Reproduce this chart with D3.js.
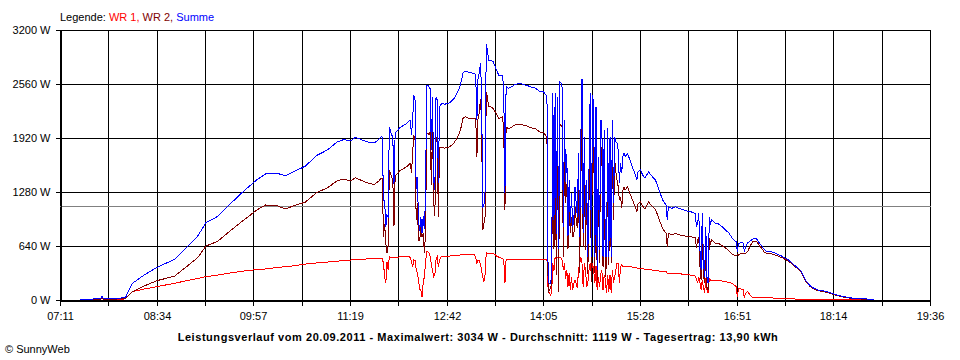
<!DOCTYPE html>
<html><head><meta charset="utf-8">
<script src="https://cdn.jsdelivr.net/npm/d3@7"></script>
<style>
body{margin:0;background:#fff;}
svg{display:block;font-family:"Liberation Sans",Arial,sans-serif;}
</style></head><body>
<svg id="chart" width="960" height="360"></svg>
<script>
const times=[
"07:28","07:40","07:46","07:47","07:48","08:00","08:07","08:10","08:13","08:23",
"08:34","08:49","09:00","09:09","09:16","09:26","09:37","09:49","10:00","10:07",
"10:17","10:24","10:31","10:41","10:51","11:00","11:08","11:14","11:20","11:24",
"11:31","11:36","11:40","11:44","11:46","11:47","11:48","11:49","11:50","11:51",
"11:52","11:53","11:54","11:55","11:56","11:57","11:58","12:00","12:02","12:05",
"12:08","12:10","12:11","12:12","12:13","12:14","12:15","12:16","12:17","12:18",
"12:19","12:20","12:21","12:22","12:23","12:24","12:25","12:26","12:27","12:28",
"12:29","12:30","12:31","12:32","12:33","12:34","12:35","12:36","12:38","12:40",
"12:43","12:45","12:48","12:50","12:53","12:55","12:56","12:58","13:01","13:04",
"13:06","13:07","13:08","13:09","13:10","13:11","13:12","13:13","13:14","13:15",
"13:16","13:17","13:18","13:20","13:22","13:25","13:27","13:30","13:31","13:32",
"13:33","13:35","13:38","13:40","13:42","13:45","13:48","13:50","13:53","13:55",
"13:58","14:00","14:02","14:05","14:07","14:08","14:09","14:10","14:11","14:12",
"14:13","14:14","14:15","14:16","14:17","14:18","14:19","14:20","14:21","14:22",
"14:23","14:24","14:25","14:26","14:27","14:28","14:29","14:30","14:31","14:32",
"14:33","14:34","14:35","14:36","14:37","14:38","14:39","14:40","14:41","14:42",
"14:43","14:44","14:45","14:46","14:47","14:48","14:49","14:50","14:51","14:52",
"14:53","14:54","14:55","14:56","14:57","14:58","14:59","15:00","15:01","15:02",
"15:03","15:04","15:05","15:06","15:07","15:08","15:09","15:10","15:11","15:12",
"15:13","15:14","15:15","15:17","15:19","15:21","15:22","15:24","15:25","15:26",
"15:28","15:30","15:32","15:35","15:38","15:41","15:44","15:47","15:50","15:51",
"15:52","15:55","15:58","16:01","16:04","16:07","16:09","16:11","16:13","16:15",
"16:16","16:17","16:18","16:19","16:20","16:21","16:22","16:23","16:24","16:25",
"16:26","16:27","16:28","16:29","16:30","16:32","16:35","16:38","16:41","16:44",
"16:47","16:50","16:51","16:52","16:54","16:56","16:57","16:58","17:00","17:02",
"17:04","17:06","17:08","17:10","17:12","17:14","17:16","17:20","17:25","17:30",
"17:35","17:40","17:45","17:48","17:50","17:53","17:56","18:00","18:05","18:10",
"18:15","18:20","18:25","18:30","18:35","18:40","18:45","18:48"];

const wr1=[
4,6,8,20,8,10,12,60,99,130,
158,198,230,255,277,295,320,345,360,368,
385,395,405,425,440,450,460,468,474,478,
485,487,490,492,492,490,434,276,197,450,
355,513,501,501,501,500,505,508,510,512,
513,512,505,450,395,474,470,360,316,240,
120,118,39,200,276,434,573,573,560,513,
420,355,276,300,480,513,395,480,521,521,
521,521,525,528,533,535,537,540,545,540,
533,500,434,474,474,420,355,276,217,300,
565,553,553,553,553,520,505,490,474,197,
478,478,478,478,480,482,482,482,482,482,
482,482,480,480,482,482,120,80,60,79,
434,350,513,480,505,505,505,500,474,355,
434,250,355,158,316,118,277,118,197,237,
200,138,355,430,513,434,158,434,355,158,
200,355,434,300,434,355,197,400,118,277,
150,300,355,118,300,237,79,300,100,300,
79,355,200,277,355,434,434,197,395,415,
400,400,395,395,395,390,385,380,380,378,
376,370,365,360,355,350,344,340,336,316,
316,316,316,314,306,302,300,296,290,284,
250,197,277,200,118,237,150,79,257,120,
79,257,237,237,237,237,230,225,215,210,
190,160,39,138,130,125,20,79,99,59,
32,32,32,30,30,28,27,25,20,16,
12,12,10,10,10,9,9,8,8,8,
7,6,5,5,4,4,4,4];

const wr2=[
4,6,8,25,8,12,14,58,98,166,
229,282,402,504,640,695,822,955,1070,1126,
1116,1079,1116,1160,1275,1328,1411,1434,1411,1450,
1405,1380,1370,1410,1445,1442,750,900,671,560,
632,1541,1500,1462,1420,880,1470,1501,1535,1555,
1580,1610,1620,1501,1750,1950,1900,950,1146,700,
700,869,750,790,560,790,1975,1975,1960,1990,
1360,2055,1150,1000,1930,1857,987,1810,1810,1800,
1805,1820,1855,1896,1975,2074,2150,2173,2153,2150,
2155,2150,1699,2173,2212,2385,2134,829,900,987,
2469,2410,2290,2290,2270,2200,2150,2170,2015,1067,
2050,2030,2050,2070,2080,2085,2070,2065,2050,2040,
2030,2010,1990,1990,1948,1936,90,120,140,200,
2015,600,1936,300,1900,100,2080,2070,2050,514,
1700,1150,1380,600,1106,790,987,750,750,1106,
950,850,1383,320,1400,2190,632,1500,593,1264,
313,1186,2015,213,1996,1976,316,1891,237,1422,
442,1833,1778,395,1715,276,434,1734,413,1636,
434,1778,946,1659,1522,1423,1344,1186,1225,1086,
1299,1338,1304,1343,1264,1190,1160,1090,1040,1140,
1165,1110,1080,1160,1110,1070,960,845,790,632,
790,771,790,773,765,757,750,751,745,743,
619,712,750,400,237,790,300,198,612,150,
118,731,672,711,700,672,671,644,615,580,
535,530,534,533,549,550,553,553,580,640,
687,699,687,640,610,570,550,548,527,497,
460,400,345,266,215,165,135,110,100,82,
58,40,27,16,13,9,6,4];

const summe=[
8,12,16,45,16,22,26,118,197,296,
387,480,632,759,917,990,1142,1300,1430,1494,
1501,1474,1521,1585,1715,1778,1871,1902,1885,1928,
1890,1867,1860,1902,1937,1932,1184,1176,868,1010,
987,2054,2001,1963,1921,1380,1975,2009,2045,2067,
2093,2122,2125,1951,2145,2424,2370,1310,1462,940,
820,987,789,990,836,1224,2548,2548,2520,2503,
1780,2410,1426,1300,2410,2370,1382,2290,2331,2321,
2326,2341,2380,2424,2508,2609,2687,2713,2698,2690,
2688,2650,2133,2647,2686,2805,2489,1105,1117,1287,
3034,2963,2843,2843,2823,2720,2655,2660,2489,1264,
2528,2508,2528,2548,2560,2567,2552,2547,2532,2522,
2512,2492,2470,2470,2430,2418,210,200,200,279,
2449,950,2449,780,2405,605,2585,2570,2524,869,
2134,1400,1735,758,1422,908,1264,868,947,1343,
1150,988,1738,750,1913,2624,790,1934,948,1422,
513,1541,2449,513,2430,2331,513,2291,355,1699,
592,2133,2133,513,2015,513,513,2034,513,1936,
513,2133,1146,1936,1877,1857,1778,1383,1620,1501,
1699,1738,1699,1738,1659,1580,1545,1470,1420,1518,
1541,1480,1445,1520,1465,1420,1304,1185,1126,948,
1106,1087,1106,1087,1071,1059,1050,1047,1035,1027,
869,909,1027,600,355,1027,450,277,869,270,
197,988,909,948,937,909,901,869,830,790,
725,690,573,671,679,675,573,632,679,699,
719,731,719,670,640,598,577,573,547,513,
472,412,355,276,225,174,144,118,108,90,
65,46,32,21,17,13,10,8];

const xTickLabels=["07:11","08:34","09:57","11:19","12:42","14:05","15:28","16:51","18:14","19:36"];
const yTickValues=[0,640,1280,1920,2560,3200];
const average=1119;
const seriesNames=["WR 1","WR 2","Summe"];
const legendTitle="Legende: ";
const titleText="Leistungsverlauf vom 20.09.2011 - Maximalwert: 3034 W - Durchschnitt: 1119 W - Tagesertrag: 13,90 kWh";
const copyrightText="\u00A9 SunnyWeb";

// ---- drawing ----
const colors=["#ff0000","#800000","#0000ff"];
const L=60,R=930,T=30,B=300;
const svg=d3.select("#chart");
const toMin=s=>(+s.slice(0,2))*60+(+s.slice(3,5));
const d0=toMin(xTickLabels[0]), d1=toMin(xTickLabels[xTickLabels.length-1]);
const x=d3.scaleLinear().domain([d0,d1]).range([L,R]);
const y=d3.scaleLinear().domain([0,3200]).range([B,T]);
const nSteps=(xTickLabels.length-1)*2;
const xTicks=d3.range(nSteps+1).map(i=>d0+i*(d1-d0)/nSteps);
const px=v=>Math.round(v)+0.5;

// grid
const grid=svg.append("g").attr("shape-rendering","crispEdges");
grid.selectAll("line.v").data(xTicks).join("line").attr("class","v")
  .attr("x1",d=>px(x(d))).attr("x2",d=>px(x(d))).attr("y1",T).attr("y2",B)
  .attr("stroke","#000");
grid.selectAll("line.h").data(yTickValues).join("line").attr("class","h")
  .attr("x1",L).attr("x2",px(R)+0.5).attr("y1",d=>px(y(d))).attr("y2",d=>px(y(d)))
  .attr("stroke","#000");
// average line
grid.append("line").attr("x1",L).attr("x2",px(R)).attr("y1",px(y(average))).attr("y2",px(y(average)))
  .attr("stroke","#808080");

// series
const tm=times.map(toMin);
const series=[wr1,wr2,summe];
const line=d3.line().x((d,i)=>x(tm[i])).y(d=>y(d));
series.forEach((s,k)=>{
  svg.append("path").datum(s).attr("d",line).attr("fill","none")
    .attr("stroke",colors[k]).attr("stroke-width",1).attr("stroke-linejoin","miter")
    .attr("shape-rendering","crispEdges");
});

// axes
const yAxis=d3.axisLeft(y).tickValues(yTickValues).tickFormat(d=>d+" W").tickSize(5).tickPadding(5).tickSizeOuter(0);
const gy=svg.append("g").attr("transform",`translate(${px(L)},0)`).call(yAxis);
const xAxis=d3.axisBottom(x).tickValues(xTicks).tickFormat((d,i)=>i%2===0?xTickLabels[i/2]:"").tickSize(5).tickPadding(7).tickSizeOuter(0);
const gx=svg.append("g").attr("transform",`translate(0,${px(B)})`).call(xAxis);
[gx,gy].forEach(g=>{
  g.attr("font-family","Liberation Sans, Arial, sans-serif").attr("font-size",11).attr("shape-rendering","crispEdges");
  g.selectAll("path.domain").attr("stroke","#000");
  g.selectAll(".tick line").attr("stroke","#000");
  g.selectAll(".tick text").attr("fill","#000");
});
gx.selectAll(".tick").attr("transform",d=>`translate(${px(x(d))},0)`);
gy.selectAll(".tick").attr("transform",d=>`translate(0,${px(y(d))})`);

// legend
const lg=svg.append("text").attr("x",L).attr("y",21).attr("font-size",11);
lg.append("tspan").attr("fill","#000").text(legendTitle);
seriesNames.forEach((n,i)=>{
  lg.append("tspan").attr("fill",colors[i]).text(n+(i<seriesNames.length-1?", ":""));
});

// title & copyright
svg.append("text").attr("x",478).attr("y",341).attr("text-anchor","middle")
  .attr("font-size",11).attr("font-weight","bold").attr("letter-spacing",0.55)
  .attr("fill","#000").text(titleText);
svg.append("text").attr("x",5).attr("y",353).attr("font-size",11).attr("fill","#000").text(copyrightText);
</script>
</body></html>
